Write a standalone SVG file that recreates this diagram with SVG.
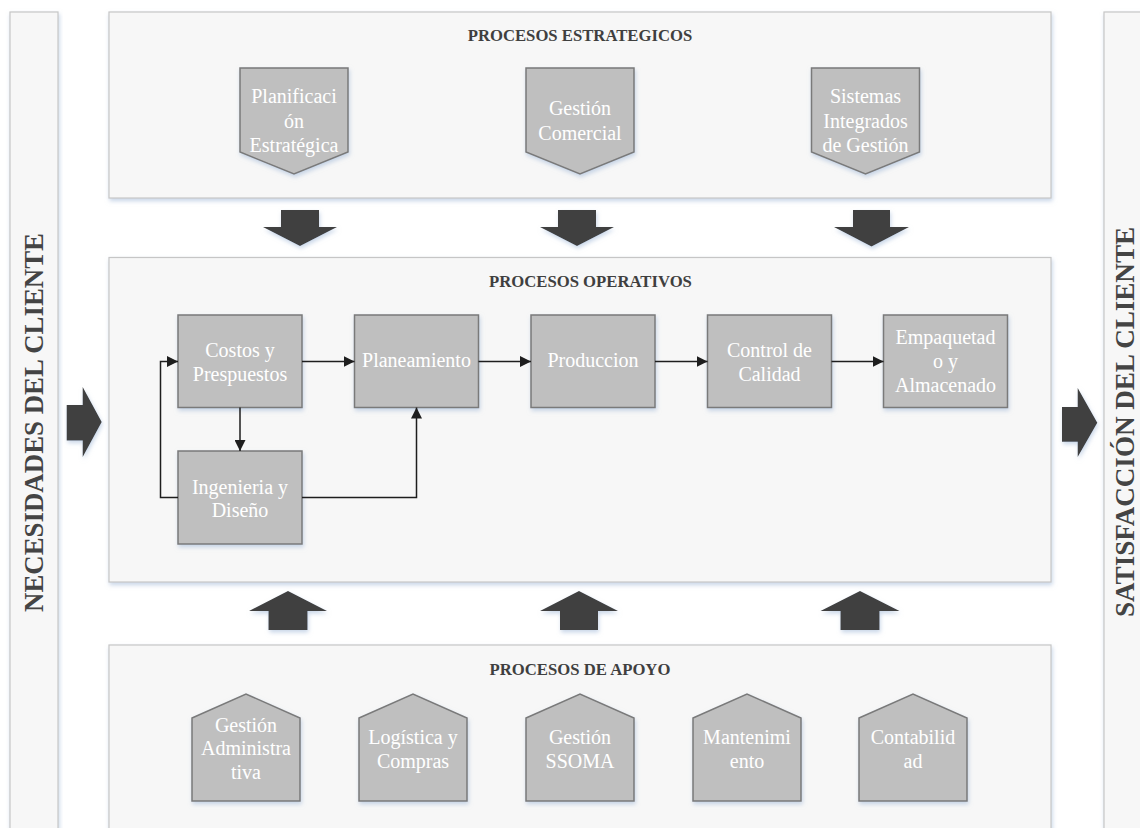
<svg xmlns="http://www.w3.org/2000/svg" width="1140" height="828" viewBox="0 0 1140 828">
  <style>
    .panel { fill: #f7f7f7; stroke: #c6c6c6; stroke-width: 1.2; }
    .bar { fill: #f7f7f7; stroke: #c6c6c6; stroke-width: 1.2; }
    .node { fill: #bfbfbf; stroke: #7a7a7a; stroke-width: 1.5; }
    .big { fill: #404040; }
    .lbl { font-family: "Liberation Serif", "Times New Roman", serif; font-size: 20px; fill: #ffffff; text-anchor: middle; }
    .title { font-family: "Liberation Serif", "Times New Roman", serif; font-size: 16.7px; font-weight: bold; fill: #3f3f3f; }
    .side { font-family: "Liberation Serif", "Times New Roman", serif; font-size: 27px; font-weight: bold; fill: #444444; text-anchor: middle; }
    .link { fill: none; stroke: #1e1e1e; stroke-width: 1.5; }
  </style>
  <defs>
    <filter id="glow" x="-10%" y="-10%" width="120%" height="130%">
      <feDropShadow dx="1" dy="2.5" stdDeviation="2" flood-color="#9db6d6" flood-opacity="0.55"/>
    </filter>
    <marker id="tri" markerUnits="userSpaceOnUse" markerWidth="11" markerHeight="11" refX="11" refY="5.5" orient="auto">
      <path d="M0,0 L11,5.5 L0,11 Z" fill="#1e1e1e"/>
    </marker>
  </defs>

  <rect width="1140" height="828" fill="#ffffff"/>

  <!-- side bars -->
  <g id="necesidades">
    <rect class="bar" x="10" y="12" width="48" height="830" filter="url(#glow)"/>
    <text class="side" transform="translate(43,422.5) rotate(-90)" textLength="379" lengthAdjust="spacingAndGlyphs">NECESIDADES DEL CLIENTE</text>
  </g>
  <g id="satisfaccion">
    <rect class="bar" x="1104" y="12" width="48" height="830" filter="url(#glow)"/>
    <text class="side" transform="translate(1134,422) rotate(-90)" textLength="390" lengthAdjust="spacingAndGlyphs">SATISFACCIÓN DEL CLIENTE</text>
  </g>

  <!-- panels -->
  <g id="panel-estrategicos">
    <rect class="panel" x="109" y="12" width="942" height="186" filter="url(#glow)"/>
    <text class="title" x="580" y="41" text-anchor="middle">PROCESOS ESTRATEGICOS</text>
  </g>
  <g id="panel-operativos">
    <rect class="panel" x="109" y="257.5" width="942" height="324.5" filter="url(#glow)"/>
    <text class="title" x="489" y="287">PROCESOS OPERATIVOS</text>
  </g>
  <g id="panel-apoyo">
    <rect class="panel" x="109" y="645" width="942" height="200" filter="url(#glow)"/>
    <text class="title" x="580" y="675" text-anchor="middle">PROCESOS DE APOYO</text>
  </g>

  <!-- block arrows between panels and sides -->
  <g id="flechas" filter="url(#glow)">
    <path class="big" d="M281,210 H319 V227 H337 L300,246 L263,227 H281 Z"/>
    <path class="big" d="M558,210 H596 V227 H614 L577,246 L540,227 H558 Z"/>
    <path class="big" d="M853,210 H890 V227 H909 L871.5,246.5 L834,227 H853 Z"/>
    <path class="big" d="M268.5,630 V611 H249 L288,591 L327,611 H307.5 V630 Z"/>
    <path class="big" d="M560,630 V611 H540 L579,591 L618,611 H598 V630 Z"/>
    <path class="big" d="M840.5,630 V611 H820.5 L860,591 L899.5,611 H879.5 V630 Z"/>
    <path class="big" d="M66.7,405 H82.7 V387 L101.7,422 L82.7,457 V440.5 H66.7 Z"/>
    <path class="big" d="M1062,407 H1077.7 V388 L1097.3,422.7 L1077.7,457 V441.7 H1062 Z"/>
  </g>

  <!-- strategic processes -->
  <g id="planificacion">
    <path class="node" d="M240,68 H348 V152 L294,174 L240,152 Z" filter="url(#glow)"/>
    <text class="lbl" x="294" y="103">Planificaci</text>
    <text class="lbl" x="294" y="127.5">ón</text>
    <text class="lbl" x="294" y="152">Estratégica</text>
  </g>
  <g id="gestion-comercial">
    <path class="node" d="M526,68 H634 V152 L580,174 L526,152 Z" filter="url(#glow)"/>
    <text class="lbl" x="580" y="115">Gestión</text>
    <text class="lbl" x="580" y="139.5">Comercial</text>
  </g>
  <g id="sistemas">
    <path class="node" d="M811.5,68 H919.5 V152 L865.5,174 L811.5,152 Z" filter="url(#glow)"/>
    <text class="lbl" x="865.5" y="103">Sistemas</text>
    <text class="lbl" x="865.5" y="127.5">Integrados</text>
    <text class="lbl" x="865.5" y="152">de Gestión</text>
  </g>

  <!-- operative processes -->
  <g id="costos">
    <rect class="node" x="178" y="315" width="124" height="92.5" filter="url(#glow)"/>
    <text class="lbl" x="240" y="356.5">Costos y</text>
    <text class="lbl" x="240" y="380.5">Prespuestos</text>
  </g>
  <g id="planeamiento">
    <rect class="node" x="354.5" y="315" width="124" height="92.5" filter="url(#glow)"/>
    <text class="lbl" x="416.5" y="367">Planeamiento</text>
  </g>
  <g id="produccion">
    <rect class="node" x="531" y="315" width="124" height="92.5" filter="url(#glow)"/>
    <text class="lbl" x="593" y="367">Produccion</text>
  </g>
  <g id="control-calidad">
    <rect class="node" x="707.5" y="315" width="124" height="92.5" filter="url(#glow)"/>
    <text class="lbl" x="769.5" y="356.5">Control de</text>
    <text class="lbl" x="769.5" y="380.5">Calidad</text>
  </g>
  <g id="empaquetado">
    <rect class="node" x="883.5" y="315" width="124" height="92.5" filter="url(#glow)"/>
    <text class="lbl" x="945.5" y="344">Empaquetad</text>
    <text class="lbl" x="945.5" y="368">o y</text>
    <text class="lbl" x="945.5" y="392">Almacenado</text>
  </g>
  <g id="ingenieria">
    <rect class="node" x="178" y="451" width="124" height="93" filter="url(#glow)"/>
    <text class="lbl" x="240" y="493.5">Ingenieria y</text>
    <text class="lbl" x="240" y="517">Diseño</text>
  </g>

  <!-- flow connectors -->
  <g id="conectores">
    <path class="link" d="M302,361.5 H354.5" marker-end="url(#tri)"/>
    <path class="link" d="M478.5,361.5 H531" marker-end="url(#tri)"/>
    <path class="link" d="M655,361.5 H707.5" marker-end="url(#tri)"/>
    <path class="link" d="M831.5,361.5 H883.5" marker-end="url(#tri)"/>
    <path class="link" d="M240,407.5 V451" marker-end="url(#tri)"/>
    <path class="link" d="M178,497.5 H160.5 V361.5 H178" marker-end="url(#tri)"/>
    <path class="link" d="M302,497.5 H416.5 V407.5" marker-end="url(#tri)"/>
  </g>

  <!-- support processes -->
  <g id="gestion-administrativa">
    <path class="node" d="M192,718 L246,694 L300,718 V801 H192 Z" filter="url(#glow)"/>
    <text class="lbl" x="246" y="731.5">Gestión</text>
    <text class="lbl" x="246" y="755">Administra</text>
    <text class="lbl" x="246" y="778.5">tiva</text>
  </g>
  <g id="logistica">
    <path class="node" d="M359,718 L413,694 L467,718 V801 H359 Z" filter="url(#glow)"/>
    <text class="lbl" x="413" y="743.5">Logística y</text>
    <text class="lbl" x="413" y="767.5">Compras</text>
  </g>
  <g id="ssoma">
    <path class="node" d="M526,718 L580,694 L634,718 V801 H526 Z" filter="url(#glow)"/>
    <text class="lbl" x="580" y="743.5">Gestión</text>
    <text class="lbl" x="580" y="767.5">SSOMA</text>
  </g>
  <g id="mantenimiento">
    <path class="node" d="M693,718 L747,694 L801,718 V801 H693 Z" filter="url(#glow)"/>
    <text class="lbl" x="747" y="743.5">Mantenimi</text>
    <text class="lbl" x="747" y="767.5">ento</text>
  </g>
  <g id="contabilidad">
    <path class="node" d="M859,718 L913,694 L967,718 V801 H859 Z" filter="url(#glow)"/>
    <text class="lbl" x="913" y="743.5">Contabilid</text>
    <text class="lbl" x="913" y="767.5">ad</text>
  </g>
</svg>
